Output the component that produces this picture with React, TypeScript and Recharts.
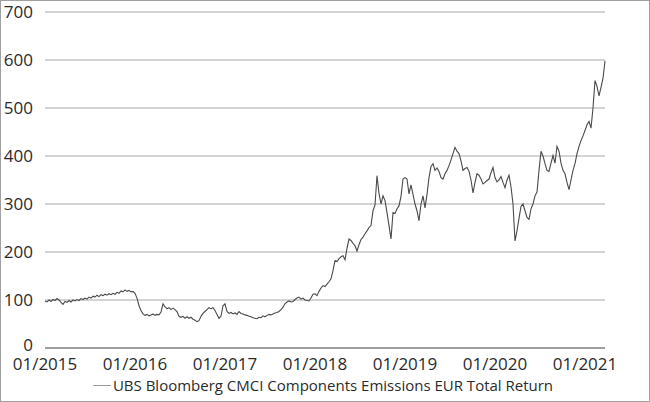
import React from 'react';
import { LineChart, Line, XAxis, YAxis, CartesianGrid, Legend } from 'recharts';

// index level, sampled roughly every 8 days (45 readings per year)
const y2015 = [98, 96, 100, 97, 101, 99, 103, 100, 95, 91, 97, 95, 99, 96, 100, 98, 101, 99, 103, 101, 104, 102, 106, 104, 108, 106, 110, 107, 111, 109, 112, 110, 113, 111, 114, 112, 116, 114, 119, 117, 121, 118, 120, 117, 118];
const y2016 = [114, 104, 88, 78, 71, 68, 70, 67, 69, 71, 68, 70, 69, 75, 92, 86, 82, 84, 80, 83, 80, 76, 66, 64, 66, 62, 65, 62, 64, 60, 58, 55, 57, 66, 72, 76, 80, 84, 82, 84, 78, 70, 62, 66, 88];
const y2017 = [92, 76, 72, 74, 71, 73, 70, 76, 72, 71, 69, 68, 66, 65, 63, 62, 61, 64, 63, 67, 65, 68, 70, 69, 71, 73, 74, 76, 80, 85, 92, 96, 98, 96, 97, 101, 104, 106, 102, 104, 100, 99, 98, 104, 112];
const y2018 = [113, 109, 118, 125, 130, 128, 133, 138, 144, 161, 182, 180, 186, 190, 192, 184, 208, 227, 224, 218, 213, 202, 215, 226, 231, 238, 244, 251, 255, 286, 298, 359, 322, 300, 317, 307, 282, 255, 227, 282, 280, 290, 296, 316, 352];
const y2019 = [355, 352, 321, 340, 320, 300, 286, 265, 300, 317, 292, 320, 355, 378, 384, 370, 375, 368, 355, 352, 363, 370, 380, 392, 405, 418, 410, 405, 390, 370, 374, 376, 368, 350, 323, 345, 363, 360, 352, 342, 345, 349, 352, 365, 376];
const y2020 = [355, 346, 350, 357, 345, 334, 350, 360, 336, 300, 223, 244, 270, 295, 300, 286, 272, 268, 290, 300, 317, 325, 370, 410, 400, 384, 370, 368, 385, 401, 385, 420, 410, 385, 370, 363, 345, 330, 350, 370, 384, 405, 420, 432, 442];
const y2021 = [453, 465, 472, 458, 500, 557, 545, 525, 543, 562, 598];

const years = [2015, 2016, 2017, 2018, 2019, 2020, 2021];
const yearlyValues = [y2015, y2016, y2017, y2018, y2019, y2020, y2021];
const yTicks = [0, 100, 200, 300, 400, 500, 600, 700];
const seriesName = 'UBS Bloomberg CMCI Components Emissions EUR Total Return';

const data = yearlyValues.flatMap((vals, k) =>
  vals.map((v, i) => ({ t: years[k] + i / 45, value: v }))
);

const font = '"Open Sans", "Noto Sans", sans-serif';

// the bottom label sits a touch higher so it clears the date labels
const YTick = ({ x, y, payload }: any) => (
  <text
    x={x}
    y={y}
    dy={payload.value === 0 ? '0.15em' : '0.355em'}
    textAnchor="end"
    fill="#2b2b2b"
    fontSize={17}
    fontFamily={font}
  >
    {payload.value}
  </text>
);

const LegendLine = () => (
  <div
    style={{
      display: 'flex',
      alignItems: 'center',
      justifyContent: 'center',
      paddingTop: 6,
      fontSize: 15,
      lineHeight: '15px',
      fontFamily: font,
      color: '#2b2b2b',
    }}
  >
    <span style={{ display: 'inline-block', width: 18, height: 1, background: '#9a9a9a', marginRight: 2 }} />
    {seriesName}
  </div>
);

export default function App() {
  return (
    <div
      style={{
        position: 'absolute',
        left: 0,
        top: 0,
        width: 650,
        height: 402,
        boxSizing: 'border-box',
        border: '1px solid #a0a0a0',
        background: '#fff',
        fontFamily: font,
      }}
    >
      <LineChart
        width={648}
        height={400}
        data={data}
        margin={{ top: 11, right: 44, left: 0, bottom: 5 }}
      >
        <CartesianGrid vertical={false} stroke="#a8a8a8" strokeWidth={1} />
        <XAxis
          dataKey="t"
          type="number"
          domain={[2015, 2021 + 20 / 90]}
          ticks={years}
          tickFormatter={(t: number) => '01/' + t}
          interval={0}
          tickLine={false}
          axisLine={{ stroke: '#8c8c8c', strokeWidth: 1.5 }}
          tick={{ fill: '#2b2b2b', fontSize: 17, fontFamily: font }}
          tickMargin={4}
          height={24}
        />
        <YAxis
          domain={[0, 700]}
          ticks={yTicks}
          axisLine={false}
          tickLine={false}
          width={44}
          tickMargin={6}
          tick={<YTick />}
        />
        <Legend
          verticalAlign="bottom"
          height={24}
          wrapperStyle={{ left: 20 }}
          content={() => <LegendLine />}
        />
        <Line
          type="linear"
          dataKey="value"
          name={seriesName}
          stroke="#4a4a4a"
          strokeWidth={1.1}
          dot={false}
          isAnimationActive={false}
        />
      </LineChart>
    </div>
  );
}
